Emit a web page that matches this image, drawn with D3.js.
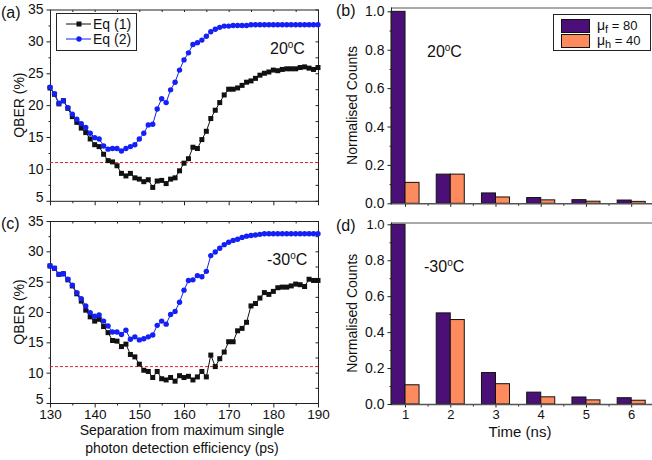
<!DOCTYPE html>
<meta charset="utf-8" />
<script src="https://d3js.org/d3.v7.min.js"></script>
<style>
  body { margin: 0; background: #fff; }
  svg text { font-family: "Liberation Sans", Arial, sans-serif; fill: #111; }
</style>
<body>
<div id="chart"></div>
<script>
  // separation from max SPDE (ps)
  var separation = [130,131,132,133,134,135,136,137,138,139,140,141,142,143,144,145,146,147,148,149,150,
    151,152,153,154,155,156,157,158,159,160,161,162,163,164,165,166,167,168,169,170,
    171,172,173,174,175,176,177,178,179,180,181,182,183,184,185,186,187,188,189,190];

  // QBER (%) at 20C
  var eq1_20 = [22.7,21.7,20.2,20.7,19.5,18.2,17.3,16.4,15.7,14.7,13.8,13.5,12.3,11.3,11.1,10.5,9.3,8.9,9.3,8.6,8.4,
    8.0,8.3,7.1,8.1,8.2,7.7,8.4,8.6,9.7,10.9,11.6,13.4,13.2,14.6,15.9,17.9,19.2,20.4,21.6,22.5,
    22.5,22.7,23.1,23.6,23.8,24.2,24.7,25.0,25.2,25.5,25.4,25.6,25.7,25.7,25.7,25.9,26.0,25.8,25.6,25.9];
  var eq2_20 = [22.8,21.8,20.3,20.7,19.6,18.6,17.8,17.1,16.5,15.6,14.9,14.7,13.6,13.1,13.2,13.2,12.8,13.2,13.5,13.8,14.7,
    15.6,16.9,17.0,19.4,21.0,20.4,22.4,23.6,25.5,27.1,28.2,29.5,29.8,30.2,30.8,31.5,31.9,32.2,32.4,32.4,
    32.5,32.5,32.5,32.5,32.6,32.6,32.6,32.6,32.6,32.6,32.6,32.6,32.6,32.6,32.6,32.6,32.6,32.6,32.6,32.6];

  // QBER (%) at -30C
  var eq1_m30 = [27.6,27.2,26.2,26.3,25.3,24.3,23.0,21.8,20.3,19.2,18.5,18.8,17.6,16.6,15.3,15.2,14.3,14.7,13.0,12.6,11.4,
    10.4,10.2,9.2,10.2,9.0,8.8,9.2,8.6,9.5,9.2,9.4,8.8,9.3,10.2,9.3,12.9,11.0,12.3,13.4,15.1,
    15.1,16.9,17.3,18.3,21.0,21.4,22.3,23.2,22.9,23.4,24.0,24.1,24.1,24.3,24.6,24.5,24.2,25.4,25.2,25.2];
  var eq2_m30 = [27.6,27.2,26.2,26.3,25.4,24.4,23.2,22.2,21.0,19.9,19.3,19.5,18.5,17.7,16.7,16.7,16.3,17.0,15.5,15.9,15.4,
    15.6,15.9,16.2,17.8,18.5,18.0,19.6,20.1,21.6,23.6,25.2,25.3,26.0,25.8,26.7,29.3,29.9,30.5,31.1,31.5,
    31.8,32.0,32.3,32.5,32.6,32.7,32.8,32.9,32.9,32.9,32.9,32.9,32.9,32.9,32.9,32.9,32.9,32.9,32.9,32.9];

  var qberLimit = 11;

  // afterpulse histograms
  var timeNs = [1, 2, 3, 4, 5, 6];
  var muF_20 = [1.0, 0.152, 0.054, 0.030, 0.019, 0.017];
  var muH_20 = [0.109, 0.152, 0.033, 0.018, 0.011, 0.010];
  var muF_m30 = [1.0, 0.507, 0.175, 0.066, 0.039, 0.035];
  var muH_m30 = [0.107, 0.470, 0.113, 0.040, 0.023, 0.021];

  var qTicks = [5, 10, 15, 20, 25, 30, 35];
  var sepTicks = [130, 140, 150, 160, 170, 180, 190];
  var countTicks = [0, 0.2, 0.4, 0.6, 0.8, 1.0];

  var purple = "#4a1077", orange = "#fd8b5d", blue = "#1420f5";

  var svg = d3.select("#chart").append("svg").attr("width", 652).attr("height", 460);

  // draws a temperature text with superscript o
  function tempLabel(g, x, y, num) {
    var t = g.append("text").attr("x", x).attr("y", y).style("font-size", "16px");
    t.append("tspan").text(num);
    t.append("tspan").attr("dy", -6).style("font-size", "10px").text("o");
    t.append("tspan").attr("dy", 6).text("C");
  }

  function qberPanel(top, bottom, eq1, eq2, temp, letter, showX, showLegend) {
    var x = d3.scaleLinear().domain([130, 190]).range([50, 318]);
    var y = d3.scaleLinear().domain([5, 35]).range([bottom, top]);
    var g = svg.append("g");

    // frame
    g.append("rect").attr("x", 50.5).attr("y", top + 0.5).attr("width", 268).attr("height", bottom - top)
      .attr("fill", "none").attr("stroke", "#222").attr("stroke-width", 1);

    var yAx = g.append("g").attr("transform", "translate(50.5,0)")
      .call(d3.axisLeft(y).tickValues(qTicks).tickSize(4).tickPadding(3));
    g.append("g").attr("transform", "translate(50.5,0)")
      .call(d3.axisLeft(y).tickValues(d3.range(7.5, 35, 5)).tickSize(2).tickFormat(""));
    g.append("g").attr("transform", "translate(318.5,0)")
      .call(d3.axisLeft(y).tickValues(d3.range(5, 35.1, 2.5)).tickSize(3).tickFormat(""));

    var xAx = g.append("g").attr("transform", "translate(0," + (bottom + 0.5) + ")")
      .call(d3.axisBottom(x).tickValues(sepTicks).tickSize(4).tickPadding(2).tickFormat(showX ? d3.format("d") : ""));
    g.append("g").attr("transform", "translate(0," + (bottom + 0.5) + ")")
      .call(d3.axisBottom(x).tickValues(d3.range(135, 190, 10)).tickSize(2).tickFormat(""));
    g.append("g").attr("transform", "translate(0," + (top + 0.5) + ")")
      .call(d3.axisBottom(x).tickValues(d3.range(135, 190, 5)).tickSize(2).tickFormat(""));

    g.selectAll(".domain").remove();
    g.selectAll(".tick line").attr("stroke", "#222");
    g.selectAll(".tick text").style("font-size", "14px").attr("fill", "#111");
    xAx.selectAll(".tick text").style("font-size", "13.5px");
    // lift the lowest y label a touch so it clears the x labels
    yAx.selectAll(".tick text").filter(function(d) { return d == 5; }).attr("dy", "0.06em");

    // security threshold
    g.append("line").attr("x1", x(130)).attr("x2", x(190)).attr("y1", y(qberLimit)).attr("y2", y(qberLimit))
      .attr("stroke", "#e8222a").attr("stroke-width", 1).attr("stroke-dasharray", "3,2");

    var line = d3.line().x(function(d, i) { return x(separation[i]); }).y(function(d) { return y(d); });

    g.append("path").datum(eq1).attr("d", line).attr("fill", "none").attr("stroke", "#111").attr("stroke-width", 1);
    g.selectAll(".sq").data(eq1).enter().append("rect")
      .attr("x", function(d, i) { return x(separation[i]) - 2.5; })
      .attr("y", function(d) { return y(d) - 2.5; })
      .attr("width", 5).attr("height", 5).attr("fill", "#111");

    g.append("path").datum(eq2).attr("d", line).attr("fill", "none").attr("stroke", blue).attr("stroke-width", 1);
    g.selectAll(".dot").data(eq2).enter().append("circle")
      .attr("cx", function(d, i) { return x(separation[i]); })
      .attr("cy", function(d) { return y(d); })
      .attr("r", 2.7).attr("fill", blue);

    tempLabel(g, temp.charAt(0) == "-" ? 267 : 270, top + 44, temp);

    g.append("text").attr("x", 1).attr("y", top + 8).style("font-size", "16px").text("(" + letter + ")");
    g.append("text").attr("transform", "translate(24," + ((top + bottom) / 2) + ") rotate(-90)")
      .attr("text-anchor", "middle").style("font-size", "14px").text("QBER (%)");

    if (showLegend) {
      g.append("rect").attr("x", 56.5).attr("y", 13.5).attr("width", 80).attr("height", 37)
        .attr("fill", "#fff").attr("stroke", "#222");
      g.append("line").attr("x1", 66).attr("x2", 91).attr("y1", 24).attr("y2", 24).attr("stroke", "#111");
      g.append("rect").attr("x", 76.5).attr("y", 21.5).attr("width", 5).attr("height", 5).attr("fill", "#111");
      g.append("text").attr("x", 93).attr("y", 29).style("font-size", "14px").text("Eq (1)");
      g.append("line").attr("x1", 66).attr("x2", 91).attr("y1", 39).attr("y2", 39).attr("stroke", blue);
      g.append("circle").attr("cx", 79).attr("cy", 39).attr("r", 2.7).attr("fill", blue);
      g.append("text").attr("x", 93).attr("y", 44).style("font-size", "14px").text("Eq (2)");
    }

    if (showX) {
      g.append("text").attr("x", 182).attr("y", 435).attr("text-anchor", "middle").style("font-size", "14px")
        .text("Separation from maximum single");
      g.append("text").attr("x", 182).attr("y", 453).attr("text-anchor", "middle").style("font-size", "14px")
        .text("photon detection efficiency (ps)");
    }
  }

  function countsPanel(top, bottom, yMax, muF, muH, temp, letter, showX, showLegend) {
    var x = d3.scaleLinear().domain([0.69, 6.46]).range([391, 652]);
    var y = d3.scaleLinear().domain([0, yMax]).range([bottom, top]);
    var bw = x(1) - x(0.69);
    var g = svg.append("g");

    g.append("line").attr("x1", 391).attr("x2", 652).attr("y1", top + 0.5).attr("y2", top + 0.5)
      .attr("stroke", "#555");

    g.selectAll(".bf").data(muF).enter().append("rect")
      .attr("x", function(d, i) { return x(timeNs[i]) - bw; })
      .attr("y", function(d) { return y(d); })
      .attr("width", bw).attr("height", function(d) { return bottom - y(d); })
      .attr("fill", purple).attr("stroke", "#111").attr("stroke-width", 1);
    g.selectAll(".bh").data(muH).enter().append("rect")
      .attr("x", function(d, i) { return x(timeNs[i]); })
      .attr("y", function(d) { return y(d); })
      .attr("width", bw).attr("height", function(d) { return bottom - y(d); })
      .attr("fill", orange).attr("stroke", "#111").attr("stroke-width", 1);

    g.append("g").attr("transform", "translate(391.5,0)")
      .call(d3.axisLeft(y).tickValues(countTicks).tickSize(4).tickPadding(3).tickFormat(d3.format(".1f")));
    g.append("g").attr("transform", "translate(391.5,0)")
      .call(d3.axisLeft(y).tickValues([0.1, 0.3, 0.5, 0.7, 0.9]).tickSize(2).tickFormat(""));
    g.append("g").attr("transform", "translate(0," + (bottom + 0.5) + ")")
      .call(d3.axisBottom(x).tickValues(timeNs).tickSize(3).tickPadding(2).tickFormat(showX ? d3.format("d") : ""));
    g.append("g").attr("transform", "translate(0," + (bottom + 0.5) + ")")
      .call(d3.axisBottom(x).tickValues([1.5, 2.5, 3.5, 4.5, 5.5]).tickSize(2).tickFormat(""));
    g.selectAll(".domain").remove();
    g.selectAll(".tick line").attr("stroke", "#222");
    g.selectAll(".tick text").style("font-size", "14px").attr("fill", "#111");
    g.selectAll(".tick text").filter(function(d) { return showX && timeNs.indexOf(d) >= 0; })
      .style("font-size", "13px");

    g.append("line").attr("x1", 391).attr("x2", 652).attr("y1", bottom + 0.5).attr("y2", bottom + 0.5)
      .attr("stroke", "#555").attr("stroke-width", 1.5);
    g.append("line").attr("x1", 391.5).attr("x2", 391.5).attr("y1", top).attr("y2", bottom + 1)
      .attr("stroke", "#222");

    tempLabel(g, temp.charAt(0) == "-" ? 424 : 427, top + 49, temp);

    g.append("text").attr("x", 336).attr("y", top + 8).style("font-size", "16px").text("(" + letter + ")");
    g.append("text").attr("transform", "translate(357," + ((top + bottom) / 2) + ") rotate(-90)")
      .attr("text-anchor", "middle").style("font-size", "14px").text("Normalised Counts");

    if (showLegend) {
      g.append("rect").attr("x", 553.5).attr("y", 14.5).attr("width", 97).attr("height", 36)
        .attr("fill", "#fff").attr("stroke", "#222");
      var items = [{ c: purple, s: "f", v: " = 80", yy: 19 }, { c: orange, s: "h", v: " = 40", yy: 34 }];
      items.forEach(function(it) {
        g.append("rect").attr("x", 561.5).attr("y", it.yy + 0.5).attr("width", 28).attr("height", 13)
          .attr("fill", it.c).attr("stroke", "#111");
        var t = g.append("text").attr("x", 597).attr("y", it.yy + 11).style("font-size", "14px");
        t.append("tspan").text("\u03bc");
        t.append("tspan").attr("dy", 3).style("font-size", "11px").text(it.s);
        t.append("tspan").attr("dy", -3).style("font-size", "13px").text(it.v);
      });
    }

    if (showX) {
      g.append("text").attr("x", 520).attr("y", 437).attr("text-anchor", "middle").style("font-size", "15px")
        .text("Time (ns)");
    }
  }

  qberPanel(9.5, 200.8, eq1_20, eq2_20, "20", "a", false, true);
  qberPanel(221, 403, eq1_m30, eq2_m30, "-30", "c", true, false);
  countsPanel(7.5, 203.3, 1.02, muF_20, muH_20, "20", "b", false, true);
  countsPanel(222.5, 404, 1.01, muF_m30, muH_m30, "-30", "d", true, false);
</script>
</body>
